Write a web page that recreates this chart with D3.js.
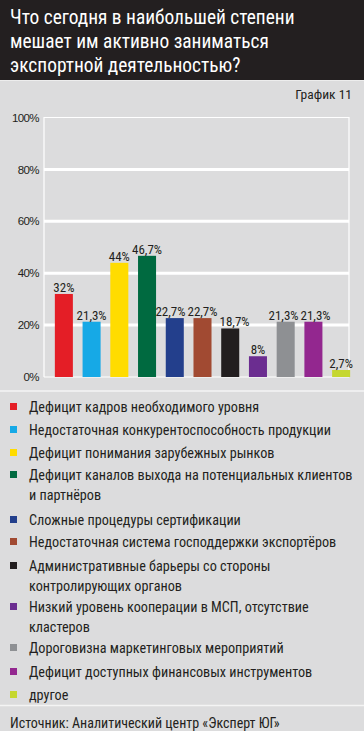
<!DOCTYPE html>
<html><head><meta charset="utf-8">
<script src="https://cdn.jsdelivr.net/npm/d3@7"></script>
<style>
html,body{margin:0;padding:0;background:#dcdcdd;}
svg{display:block;}
</style></head>
<body>
<svg id="chart" width="364" height="731"></svg>
<script>
const titleLines = ["Что сегодня в наибольшей степени", "мешает им активно заниматься", "экспортной деятельностью?"];
const chartLabel = "График 11";
const categories = [
  "Дефицит кадров необходимого уровня",
  "Недостаточная конкурентоспособность продукции",
  "Дефицит понимания зарубежных рынков",
  "Дефицит каналов выхода на потенциальных клиентов|и партнёров",
  "Сложные процедуры сертификации",
  "Недостаточная система господдержки экспортёров",
  "Административные барьеры со стороны|контролирующих органов",
  "Низкий уровень кооперации в МСП, отсутствие|кластеров",
  "Дороговизна маркетинговых мероприятий",
  "Дефицит доступных финансовых инструментов",
  "другое"
];
const values = [32, 21.3, 44, 46.7, 22.7, 22.7, 18.7, 8, 21.3, 21.3, 2.7];
const valueLabels = ["32%", "21,3%", "44%", "46,7%", "22,7%", "22,7%", "18,7%", "8%", "21,3%", "21,3%", "2,7%"];
const colors = ["#e41e26", "#16a9e6", "#ffdc00", "#006a40", "#233f8c", "#a14a32", "#221e1f", "#6b2d90", "#8e9093", "#93278f", "#c5d72f"];
const yTicks = [0, 20, 40, 60, 80, 100];
const source = "Источник: Аналитический центр «Эксперт ЮГ»";

const condensed = "'Liberation Sans Narrow', 'Roboto Condensed', 'DejaVu Sans Condensed', 'Arial Narrow', sans-serif";
const svg = d3.select("#chart");

// title band
svg.append("rect").attr("x", 0).attr("y", 0).attr("width", 364).attr("height", 80).attr("fill", "#231f20");
svg.append("line").attr("x1", 0).attr("x2", 364).attr("y1", 80.5).attr("y2", 80.5).attr("stroke", "#ededed").attr("stroke-width", 1);
svg.selectAll(".title").data(titleLines).join("text")
  .attr("x", 10).attr("y", (d, i) => 24 + i * 24)
  .attr("fill", "#ffffff").attr("font-family", condensed).attr("font-size", 19.4)
  .text(d => d);

svg.append("text").attr("x", 352).attr("y", 99).attr("text-anchor", "end")
  .attr("font-family", condensed).attr("font-size", 13.5).attr("fill", "#231f20").text(chartLabel);

// scales
const x = d3.scaleBand().domain(d3.range(values.length)).range([50, 355]).paddingInner(0.35).paddingOuter(0.175);
const y = d3.scaleLinear().domain([0, 100]).range([377, 117.5]);

// frame
const plotL = 44, plotR = 349;
svg.append("path").attr("d", `M${plotL},${y(0)}V${y(100)}H${plotR}V${y(0)}`)
  .attr("fill", "none").attr("stroke", "#ffffff").attr("stroke-width", 1.2);
svg.append("line").attr("x1", plotL).attr("x2", plotR).attr("y1", y(0)).attr("y2", y(0)).attr("stroke", "#ffffff").attr("stroke-width", 1.2);

// gridlines
svg.selectAll(".grid").data(yTicks.filter(t => t > 0 && t < 100)).join("line")
  .attr("x1", plotL).attr("x2", plotR).attr("y1", d => y(d)).attr("y2", d => y(d))
  .attr("stroke", "#ffffff").attr("stroke-width", 3);

// y axis
const yAxis = d3.axisLeft(y).tickValues(yTicks).tickFormat(d => d + "%").tickSize(0).tickPadding(5);
const gy = svg.append("g").attr("transform", `translate(${plotL},0)`).call(yAxis);
gy.select(".domain").remove();
gy.selectAll("text").attr("font-family", "'Liberation Sans', Arial, sans-serif").attr("font-size", 11.5).attr("fill", "#231f20").attr("letter-spacing", -0.6);

// bars
svg.selectAll(".bar").data(values).join("rect")
  .attr("x", (d, i) => x(i)).attr("width", x.bandwidth())
  .attr("y", d => y(d)).attr("height", d => y(0) - y(d))
  .attr("fill", (d, i) => colors[i]);

const vlabs = svg.selectAll(".vlab").data(values).join("text")
  .attr("class", "vlab")
  .attr("x", (d, i) => x(i) + x.bandwidth() / 2).attr("y", d => y(d) - 2)
  .attr("text-anchor", "middle").attr("font-family", condensed).attr("font-size", 13).attr("fill", "#231f20")
  .text((d, i) => valueLabels[i]);

// resolve horizontal collisions between neighbouring value labels
const nodes = vlabs.nodes();
const info = nodes.map(n => ({ n, cx: +n.getAttribute("x"), w: n.getComputedTextLength(), y: +n.getAttribute("y") }));
for (let iter = 0; iter < 5; iter++) {
  for (let i = 0; i < info.length - 1; i++) {
    const a = info[i], b = info[i + 1];
    if (Math.abs(a.y - b.y) > 12) continue;
    const gap = (b.cx - b.w / 2) - (a.cx + a.w / 2);
    if (gap < 2) {
      const shift = (2 - gap) / 2;
      a.cx -= shift; b.cx += shift;
    }
  }
}
info.forEach(o => o.n.setAttribute("x", o.cx));

// separators
svg.append("line").attr("x1", 0).attr("x2", 364).attr("y1", 391).attr("y2", 391).attr("stroke", "#f4f4f4").attr("stroke-width", 1.5);
svg.append("line").attr("x1", 0).attr("x2", 364).attr("y1", 705.5).attr("y2", 705.5).attr("stroke", "#f4f4f4").attr("stroke-width", 1.5);

// legend
const rowY = [407, 430, 453, 475, 520, 542, 566, 607, 648, 672, 695];
const lg = svg.selectAll(".leg").data(categories).join("g").attr("transform", (d, i) => `translate(0,${rowY[i]})`);
lg.append("rect").attr("x", 10).attr("y", -4).attr("width", 7).attr("height", 7).attr("fill", (d, i) => colors[i]);
lg.each(function(d) {
  const g = d3.select(this);
  d.split("|").forEach((line, j) => {
    g.append("text").attr("x", 29).attr("y", 5 + j * 20)
      .attr("font-family", condensed).attr("font-size", 14.2).attr("fill", "#231f20").text(line);
  });
});

svg.append("text").attr("x", 10).attr("y", 728).attr("font-family", condensed).attr("font-size", 14).attr("fill", "#231f20").text(source);
</script>
</body></html>
